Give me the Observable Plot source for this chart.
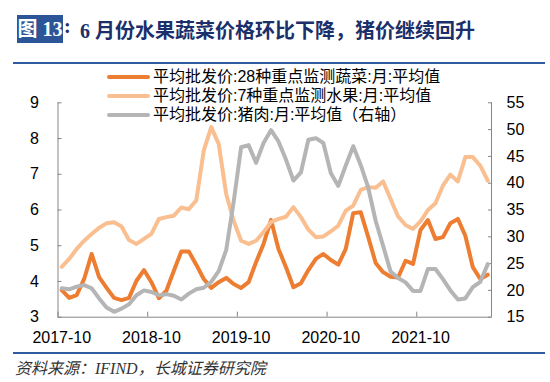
<!DOCTYPE html>
<html><head><meta charset="utf-8">
<script src="https://cdn.jsdelivr.net/npm/d3@7"></script>
<script src="https://cdn.jsdelivr.net/npm/@observablehq/plot@0.6"></script>
<style>
body{margin:0;width:550px;height:382px;position:relative;overflow:hidden;background:#fff;font-family:"Liberation Sans",Arial,"Noto Sans CJK SC",sans-serif;}
.abs{position:absolute;}
.rule{position:absolute;left:13px;width:532px;height:2px;background:#2E5C9E;}
#tbox{left:17px;top:15px;width:46px;height:28px;background:#2B5597;color:#fff;font:bold 20px "Liberation Serif","Noto Sans CJK SC",serif;line-height:28px;white-space:nowrap;text-align:center;}
#tcolon{left:64px;top:15px;height:28px;line-height:28px;color:#1B2F6B;font:bold 20px "Liberation Serif",serif;}
#ttext{left:80px;top:15px;height:28px;line-height:28px;color:#1B2F6B;font:bold 20px "Liberation Serif","Noto Sans CJK SC",serif;white-space:nowrap;}
#chart{left:0;top:65px;}
.lg{position:absolute;left:107px;height:19px;line-height:19px;font-size:16px;color:#000;white-space:nowrap;}
.sw{display:inline-block;width:43px;height:4px;border-radius:2px;vertical-align:middle;margin-right:3px;position:relative;top:-1px;}
#src{left:15px;top:355px;height:20px;line-height:20px;font:italic 16px "Liberation Serif","Noto Sans CJK SC",serif;color:#333;white-space:nowrap;}
</style></head><body>
<div id="tbox" class="abs">图 13</div>
<div id="tcolon" class="abs">:</div>
<div id="ttext" class="abs">6 月份水果蔬菜价格环比下降，猪价继续回升</div>
<div class="rule" style="top:62px"></div>
<div id="chart" class="abs"></div>
<div class="rule" style="top:352px"></div>
<div id="src" class="abs">资料来源：IFIND，长城证券研究院</div>
<script>
// Series names (legend)
const seriesNames = [
  "平均批发价:28种重点监测蔬菜:月:平均值",
  "平均批发价:7种重点监测水果:月:平均值",
  "平均批发价:猪肉:月:平均值（右轴）"
];
const seriesColors = ["#ED7D31", "#F9BF91", "#B5B5B5"];

// Months: 2017-10 ... 2022-07 (58 categories)
const months = [];
for (let k = 0; k < 58; k++) {
  const y = 2017 + Math.floor((9 + k) / 12), m = (9 + k) % 12 + 1;
  months.push(`${y}-${String(m).padStart(2, "0")}`);
}

// 28 key vegetables, yuan/kg (left axis)
const vegetables = [3.76,3.54,3.62,4.07,4.77,4.12,3.82,3.54,3.48,3.54,
  4.02,4.32,3.98,3.53,3.74,4.30,4.84,4.84,4.47,4.07,
  3.82,3.98,4.10,3.93,3.82,3.98,4.54,5.05,5.72,4.91,
  4.40,3.84,3.95,4.32,4.63,4.77,4.60,4.47,4.91,5.91,
  5.94,5.25,4.52,4.26,4.13,4.11,4.58,4.49,5.44,5.72,
  5.19,5.24,5.63,5.75,5.28,4.40,4.07,4.19];

// 7 key fruits, yuan/kg (left axis)
const fruits = [4.41,4.63,4.91,5.14,5.33,5.50,5.63,5.66,5.54,5.16,
  5.05,5.19,5.33,5.75,5.80,5.84,6.07,6.02,6.27,7.66,
  8.32,7.85,6.45,5.70,5.14,5.05,5.14,5.38,5.66,5.75,
  5.81,6.08,5.80,5.45,5.24,5.26,5.40,5.56,5.98,6.12,
  6.56,6.64,6.62,6.80,6.31,5.82,5.58,5.47,5.68,6.00,
  6.19,6.68,6.99,6.80,7.48,7.48,7.24,6.82];

// Pork, yuan/kg (right axis)
const pork = [20.4,20.2,20.7,21.0,20.4,18.5,16.8,16.0,16.6,17.4,
  19.1,20.0,19.7,19.1,19.3,19.0,18.3,19.4,20.2,20.5,
  21.6,23.6,27.5,36.5,46.7,47.1,43.8,47.5,49.9,47.8,
  44.4,40.5,42.0,48.1,48.4,47.5,41.9,39.5,43.3,46.9,
  43.4,39.2,33.0,28.3,23.5,22.3,21.5,19.9,19.9,24.0,
  24.0,22.1,20.0,18.3,18.5,20.6,21.6,24.9];

// Axis ticks
const leftTicks = [3,4,5,6,7,8,9];
const rightTicks = [15,20,25,30,35,40,45,50,55];
const xTickLabels = ["2017-10","2018-10","2019-10","2020-10","2021-10"];

// right axis mapping onto the left scale
const L0 = 3, L1 = 9, R0 = 15, R1 = 55;
const toLeft = v => L0 + (v - R0) * (L1 - L0) / (R1 - R0);
const fromLeft = v => R0 + (v - L0) * (R1 - R0) / (L1 - L0);

const rows = [];
months.forEach((m, i) => {
  rows.push({i: i + 0.5, month: m, s: 0, v: vegetables[i]});
  rows.push({i: i + 0.5, month: m, s: 1, v: fruits[i]});
  rows.push({i: i + 0.5, month: m, s: 2, v: toLeft(pork[i])});
});

const xTickPos = xTickLabels.map(l => months.indexOf(l));
const xLabelPos = xTickPos.map(p => p + 0.5);
const axisColor = "#868686";

const chart = Plot.plot({
  width: 550,
  height: 287,
  marginTop: 37.3,
  marginBottom: 35.3,
  marginLeft: 57.5,
  marginRight: 59,
  style: {fontFamily: "'Liberation Sans', Arial, sans-serif", fontSize: "16px", background: "transparent", color: "#000"},
  x: {domain: [0, months.length], axis: null},
  y: {domain: [L0, L1], axis: null},
  marks: [
    Plot.ruleY([L0], {stroke: axisColor}),
    Plot.ruleX([0, months.length], {stroke: axisColor}),
    Plot.axisY(leftTicks, {anchor: "left", label: null, tickSize: 0, tickPadding: 19, fontSize: 16, tickFormat: d => String(d)}),
    Plot.axisY(leftTicks, {anchor: "left", label: null, tickSize: -4, stroke: axisColor, tickFormat: () => ""}),
    Plot.axisY(rightTicks.map(toLeft), {anchor: "right", label: null, tickSize: 0, tickPadding: 15, fontSize: 16, tickFormat: d => String(Math.round(fromLeft(d)))}),
    Plot.axisY(rightTicks.map(toLeft), {anchor: "right", label: null, tickSize: -4, stroke: axisColor, tickFormat: () => ""}),
    Plot.axisX(xTickPos, {anchor: "bottom", label: null, tickSize: -5, stroke: axisColor, tickFormat: () => ""}),
    Plot.axisX(xLabelPos, {anchor: "bottom", label: null, tickSize: 0, tickPadding: 14, fontSize: 16, tickFormat: d => xTickLabels[xLabelPos.indexOf(d)]}),
    ...[0, 1, 2].map(s => Plot.line(rows.filter(r => r.s === s), {
      x: "i", y: "v", stroke: seriesColors[s], strokeWidth: 4,
      strokeLinejoin: "round", strokeLinecap: "round"
    }))
  ]
});
document.getElementById("chart").appendChild(chart);

// legend
const tops = [67, 86, 105];
seriesNames.forEach((n, k) => {
  const d = document.createElement("div");
  d.className = "lg";
  d.style.top = tops[k] + "px";
  d.innerHTML = `<span class="sw" style="background:${seriesColors[k]}"></span>${n}`;
  document.body.appendChild(d);
});
</script>
</body></html>
